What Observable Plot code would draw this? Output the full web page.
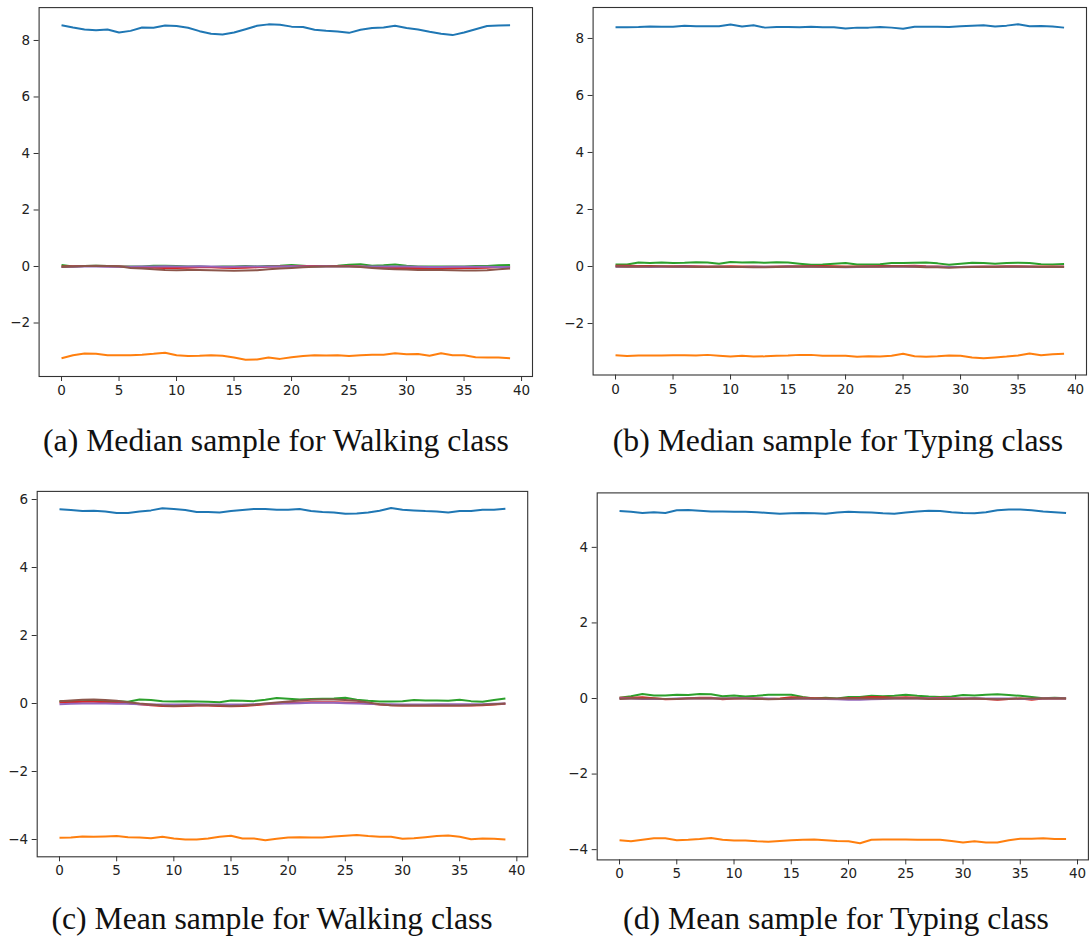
<!DOCTYPE html>
<html>
<head>
<meta charset="utf-8">
<script src="https://cdn.jsdelivr.net/npm/d3@7"></script>
<script src="https://cdn.jsdelivr.net/npm/@observablehq/plot@0.6"></script>
<style>
  html, body { margin: 0; padding: 0; background: #fff; }
  #figure { position: relative; width: 1090px; height: 942px; overflow: hidden; }
  .panel { position: absolute; }
  .caption {
    position: absolute;
    font-family: "Liberation Serif", "DejaVu Serif", serif;
    font-size: 31.7px;
    color: #111;
    white-space: nowrap;
    transform: translate(-50%, -50%);
  }
</style>
</head>
<body>
<div id="figure"></div>
<script>
// Six sensor channels, one line each, in the default matplotlib colour cycle.
const channels = ["ch1", "ch2", "ch3", "ch4", "ch5", "ch6"];
const channelColors = ["#1f77b4", "#ff7f0e", "#2ca02c", "#d62728", "#9467bd", "#8c564b"];

const captions = [
  "(a) Median sample for Walking class",
  "(b) Median sample for Typing class",
  "(c) Mean sample for Walking class",
  "(d) Mean sample for Typing class"
];

const xTicks = [0, 5, 10, 15, 20, 25, 30, 35, 40];
const yTicksMedian = [-2, 0, 2, 4, 6, 8];
const yTicksWalkMean = [-4, -2, 0, 2, 4, 6];
const yTicksTypeMean = [-4, -2, 0, 2, 4];

// (a) median walking sample
const walkMedian1 = [8.54,8.46,8.39,8.36,8.39,8.28,8.34,8.46,8.45,8.53,8.51,8.45,8.33,8.24,8.21,8.28,8.40,8.52,8.57,8.56,8.49,8.48,8.38,8.34,8.32,8.27,8.38,8.44,8.46,8.52,8.44,8.39,8.31,8.24,8.19,8.28,8.40,8.51,8.53,8.54];
const walkMedian2 = [-3.25,-3.14,-3.08,-3.09,-3.14,-3.14,-3.14,-3.12,-3.09,-3.05,-3.14,-3.17,-3.16,-3.14,-3.16,-3.22,-3.30,-3.29,-3.22,-3.27,-3.21,-3.17,-3.14,-3.15,-3.14,-3.17,-3.14,-3.12,-3.12,-3.07,-3.11,-3.10,-3.16,-3.07,-3.14,-3.14,-3.21,-3.22,-3.22,-3.25];
const walkMedian3 = [0.05,0.00,0.02,0.03,0.02,0.00,0.00,0.00,0.03,0.03,0.02,0.00,0.00,-0.02,0.00,0.00,0.02,0.00,0.02,0.03,0.05,0.03,0.00,0.02,0.03,0.06,0.08,0.03,0.04,0.07,0.03,0.00,0.00,0.00,0.00,0.00,0.02,0.02,0.04,0.05];
const walkMedian4 = [0.00,0.01,0.02,0.02,0.01,0.00,-0.02,-0.03,-0.04,-0.05,-0.05,-0.04,-0.03,-0.03,-0.04,-0.05,-0.04,-0.03,-0.01,0.00,0.01,0.02,0.02,0.02,0.02,0.02,0.00,-0.02,-0.04,-0.05,-0.05,-0.05,-0.04,-0.05,-0.06,-0.05,-0.05,-0.04,-0.02,-0.02];
const walkMedian5 = [-0.02,-0.01,0.00,0.00,-0.01,-0.01,-0.01,0.00,0.00,0.01,0.00,0.00,0.01,0.00,-0.01,-0.01,0.00,0.00,0.00,0.00,0.01,0.00,0.00,0.01,0.00,0.00,0.00,0.00,0.00,0.00,0.00,-0.01,-0.02,-0.02,-0.01,-0.01,-0.01,-0.01,-0.02,-0.02];
const walkMedian6 = [-0.02,0.00,0.02,0.03,0.02,0.01,-0.05,-0.07,-0.10,-0.12,-0.13,-0.12,-0.12,-0.13,-0.14,-0.15,-0.14,-0.13,-0.10,-0.07,-0.05,-0.03,-0.01,0.00,0.01,0.00,-0.02,-0.05,-0.08,-0.10,-0.11,-0.12,-0.12,-0.12,-0.13,-0.14,-0.14,-0.13,-0.10,-0.07];

// (b) median typing sample
const typeMedian1 = [8.39,8.39,8.40,8.42,8.41,8.41,8.45,8.43,8.43,8.43,8.49,8.42,8.46,8.38,8.40,8.40,8.39,8.41,8.39,8.39,8.35,8.38,8.38,8.40,8.38,8.34,8.41,8.41,8.41,8.40,8.43,8.45,8.46,8.42,8.45,8.50,8.43,8.44,8.42,8.38];
const typeMedian2 = [-3.11,-3.14,-3.12,-3.12,-3.12,-3.11,-3.11,-3.12,-3.10,-3.13,-3.16,-3.13,-3.16,-3.15,-3.13,-3.12,-3.10,-3.10,-3.13,-3.13,-3.13,-3.17,-3.15,-3.16,-3.13,-3.06,-3.15,-3.17,-3.15,-3.12,-3.13,-3.19,-3.22,-3.19,-3.16,-3.12,-3.05,-3.11,-3.08,-3.06];
const typeMedian3 = [0.07,0.07,0.14,0.12,0.14,0.12,0.13,0.15,0.14,0.10,0.16,0.14,0.15,0.13,0.15,0.14,0.10,0.06,0.07,0.10,0.12,0.07,0.07,0.08,0.12,0.12,0.13,0.14,0.11,0.06,0.10,0.13,0.12,0.10,0.12,0.13,0.12,0.08,0.07,0.09];
const typeMedian4 = [0.03,0.03,0.02,0.02,0.01,0.01,0.02,0.01,0.00,0.00,0.01,0.00,0.00,-0.01,0.00,0.01,0.01,0.02,0.02,0.01,0.00,0.00,0.01,0.02,0.02,0.02,0.03,0.01,0.00,-0.02,-0.02,-0.01,0.00,0.00,0.01,0.01,0.00,0.00,0.00,0.00];
const typeMedian5 = [-0.01,-0.01,-0.01,-0.02,-0.01,-0.01,0.00,-0.01,-0.01,-0.01,-0.02,-0.02,-0.01,-0.01,-0.01,0.00,-0.01,-0.01,-0.02,-0.02,-0.03,-0.02,-0.01,-0.01,-0.01,-0.01,0.00,-0.01,-0.01,-0.02,-0.02,-0.01,-0.01,-0.01,-0.01,-0.01,-0.01,-0.02,-0.02,-0.01];
const typeMedian6 = [0.00,-0.01,-0.01,0.00,0.00,-0.01,-0.01,-0.02,-0.02,-0.01,-0.02,-0.02,-0.03,-0.03,-0.02,-0.01,-0.01,0.00,-0.01,-0.02,-0.02,-0.01,-0.01,-0.01,0.00,0.00,-0.01,-0.03,-0.03,-0.04,-0.03,-0.02,-0.02,-0.02,-0.01,-0.01,-0.01,-0.02,-0.02,-0.02];

// (c) mean walking sample
const walkMean1 = [5.71,5.69,5.66,5.67,5.65,5.60,5.60,5.65,5.68,5.74,5.72,5.69,5.63,5.63,5.62,5.66,5.69,5.72,5.72,5.70,5.70,5.72,5.66,5.63,5.62,5.58,5.59,5.62,5.67,5.75,5.70,5.68,5.66,5.65,5.62,5.66,5.66,5.70,5.70,5.73];
const walkMean2 = [-3.95,-3.94,-3.91,-3.92,-3.91,-3.90,-3.93,-3.94,-3.96,-3.92,-3.97,-4.00,-4.00,-3.97,-3.92,-3.89,-3.97,-3.97,-4.02,-3.98,-3.94,-3.93,-3.94,-3.94,-3.91,-3.89,-3.87,-3.90,-3.92,-3.92,-3.98,-3.96,-3.93,-3.90,-3.88,-3.92,-3.99,-3.97,-3.98,-4.00];
const walkMean3 = [0.07,0.07,0.07,0.08,0.07,0.07,0.05,0.12,0.10,0.07,0.06,0.07,0.06,0.05,0.04,0.09,0.08,0.07,0.11,0.16,0.14,0.12,0.13,0.14,0.15,0.17,0.11,0.08,0.06,0.06,0.07,0.10,0.09,0.09,0.08,0.11,0.07,0.05,0.10,0.15];
const walkMean4 = [0.03,0.04,0.05,0.05,0.04,0.03,0.01,-0.02,-0.05,-0.07,-0.08,-0.07,-0.06,-0.06,-0.07,-0.08,-0.07,-0.05,-0.02,0.00,0.02,0.03,0.04,0.04,0.04,0.03,0.02,0.00,-0.03,-0.05,-0.06,-0.06,-0.06,-0.06,-0.06,-0.06,-0.06,-0.05,-0.03,-0.01];
const walkMean5 = [-0.02,-0.01,0.00,0.00,0.00,-0.01,-0.01,-0.02,-0.03,-0.03,-0.03,-0.03,-0.02,-0.03,-0.03,-0.03,-0.03,-0.02,-0.01,0.00,0.00,0.01,0.02,0.02,0.02,0.01,0.00,-0.01,-0.02,-0.02,-0.03,-0.03,-0.03,-0.02,-0.02,-0.02,-0.02,-0.02,-0.01,0.00];
const walkMean6 = [0.07,0.09,0.11,0.12,0.10,0.08,0.04,0.00,-0.03,-0.06,-0.07,-0.06,-0.05,-0.05,-0.06,-0.07,-0.06,-0.04,0.00,0.03,0.06,0.09,0.11,0.12,0.12,0.10,0.08,0.03,-0.02,-0.05,-0.06,-0.06,-0.06,-0.06,-0.06,-0.06,-0.05,-0.04,-0.02,0.00];

// (d) mean typing sample
const typeMean1 = [4.96,4.94,4.91,4.93,4.91,4.98,4.99,4.97,4.95,4.95,4.94,4.94,4.93,4.91,4.89,4.90,4.91,4.90,4.89,4.92,4.94,4.93,4.92,4.90,4.89,4.92,4.95,4.97,4.96,4.93,4.91,4.90,4.93,4.98,5.00,5.00,4.98,4.95,4.93,4.91];
const typeMean2 = [-3.75,-3.78,-3.74,-3.70,-3.70,-3.75,-3.74,-3.72,-3.69,-3.74,-3.76,-3.76,-3.78,-3.79,-3.77,-3.75,-3.74,-3.73,-3.75,-3.77,-3.78,-3.83,-3.74,-3.73,-3.73,-3.73,-3.74,-3.74,-3.74,-3.77,-3.81,-3.78,-3.81,-3.81,-3.75,-3.71,-3.71,-3.70,-3.72,-3.72];
const typeMean3 = [0.02,0.06,0.12,0.08,0.08,0.10,0.09,0.12,0.11,0.06,0.08,0.05,0.07,0.10,0.10,0.10,0.04,0.00,0.02,0.00,0.04,0.04,0.07,0.06,0.07,0.10,0.07,0.05,0.04,0.05,0.09,0.08,0.10,0.11,0.09,0.07,0.04,0.01,0.02,0.01];
const typeMean4 = [0.02,0.02,0.03,0.01,-0.02,-0.01,0.01,0.02,0.02,-0.02,0.00,0.01,0.01,-0.01,0.00,0.03,0.02,0.01,0.00,-0.01,0.01,0.02,0.04,0.03,0.02,0.03,0.02,0.01,0.02,0.01,0.00,0.00,-0.01,-0.03,-0.01,0.00,-0.03,0.00,0.00,0.00];
const typeMean5 = [0.00,0.00,-0.01,-0.01,-0.01,0.00,0.00,0.00,0.00,0.00,0.01,0.01,0.00,0.00,-0.01,-0.01,0.00,-0.01,-0.01,-0.02,-0.03,-0.03,-0.02,-0.01,0.00,0.00,0.00,0.00,0.00,0.00,0.00,0.01,0.00,0.00,0.00,-0.01,-0.01,0.00,0.00,0.00];
const typeMean6 = [-0.01,0.00,0.00,0.00,-0.01,-0.01,0.00,0.00,0.00,0.00,0.00,0.00,-0.01,-0.02,-0.01,0.00,0.00,0.00,0.00,0.00,0.00,0.00,0.00,0.00,0.00,0.00,0.00,-0.01,-0.01,-0.01,-0.01,0.00,-0.01,-0.02,-0.01,0.00,0.00,0.00,0.00,0.00];

// Long-format rows for one panel: one row per (channel, step).
function toRows(seriesList) {
  const rows = [];
  seriesList.forEach((values, c) => {
    values.forEach((v, i) => rows.push({channel: channels[c], step: i, value: v}));
  });
  return rows;
}

// matplotlib-style autoscale: data extent padded by 5% on each side.
function padded(extent) {
  const pad = (extent[1] - extent[0]) * 0.05;
  return [extent[0] - pad, extent[1] + pad];
}

const minusFormat = d => (d < 0 ? "\u2212" + Math.abs(d) : String(d));

const panels = [
  {series: [walkMedian1, walkMedian2, walkMedian3, walkMedian4, walkMedian5, walkMedian6], yTicks: yTicksMedian,
   left: 0, top: 0, width: 545, height: 410, margin: [7.1, 13, 34, 38.6], caption: captions[0], capX: 276, capY: 441},
  {series: [typeMedian1, typeMedian2, typeMedian3, typeMedian4, typeMedian5, typeMedian6], yTicks: yTicksMedian,
   left: 545, top: 0, width: 545, height: 410, margin: [7, 4, 35.5, 47.6], caption: captions[1], capX: 838, capY: 441},
  {series: [walkMean1, walkMean2, walkMean3, walkMean4, walkMean5, walkMean6], yTicks: yTicksWalkMean,
   left: 0, top: 470, width: 545, height: 420, margin: [20.9, 17.8, 33.7, 36.7], caption: captions[2], capX: 272, capY: 919},
  {series: [typeMean1, typeMean2, typeMean3, typeMean4, typeMean5, typeMean6], yTicks: yTicksTypeMean,
   left: 545, top: 470, width: 545, height: 420, margin: [22.4, 2.1, 30.6, 51.7], caption: captions[3], capX: 836, capY: 919}
];

const figure = document.getElementById("figure");

for (const p of panels) {
  const rows = toRows(p.series);
  const [mt, mr, mb, ml] = p.margin;
  const chart = Plot.plot({
    width: p.width,
    height: p.height,
    marginTop: mt,
    marginRight: mr,
    marginBottom: mb,
    marginLeft: ml,
    style: {fontFamily: "'DejaVu Sans', sans-serif", fontSize: "13.5px", color: "#222", background: "transparent"},
    x: {domain: padded([0, 39]), ticks: xTicks, tickFormat: minusFormat, tickSize: 5, tickPadding: 4, label: null},
    y: {domain: padded(d3.extent(rows, d => d.value)), ticks: p.yTicks, tickFormat: minusFormat, tickSize: 5, tickPadding: 4, label: null},
    color: {domain: channels, range: channelColors},
    marks: [
      Plot.line(rows, {x: "step", y: "value", z: "channel", stroke: "channel", strokeWidth: 2, strokeLinejoin: "round", strokeLinecap: "butt"}),
      Plot.frame({stroke: "#333", strokeWidth: 1.1}),
      Plot.axisX({ticks: xTicks, tickFormat: minusFormat, tickSize: 5, tickPadding: 4, label: null, stroke: "#333"}),
      Plot.axisY({ticks: p.yTicks, tickFormat: minusFormat, tickSize: 5, tickPadding: 4, label: null, stroke: "#333"})
    ]
  });
  chart.classList.add("panel");
  chart.style.left = p.left + "px";
  chart.style.top = p.top + "px";
  figure.appendChild(chart);

  const cap = document.createElement("div");
  cap.className = "caption";
  cap.textContent = p.caption;
  cap.style.left = p.capX + "px";
  cap.style.top = p.capY + "px";
  figure.appendChild(cap);
}
</script>
</body>
</html>
